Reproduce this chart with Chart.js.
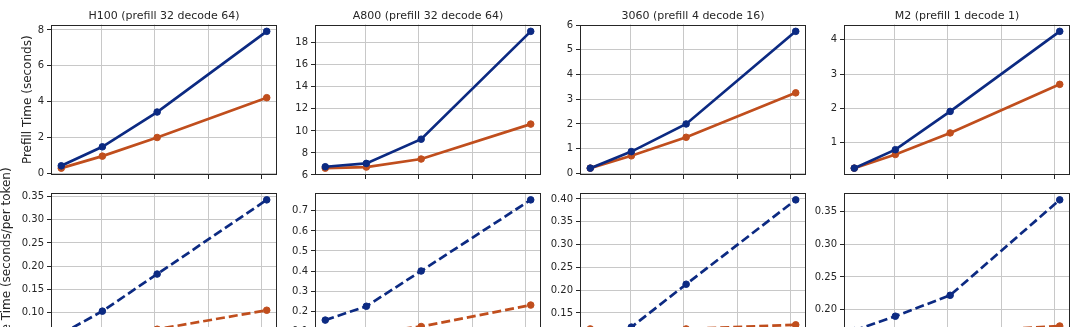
<!DOCTYPE html>
<html>
<head>
<meta charset="utf-8">
<script src="https://cdn.jsdelivr.net/npm/chart.js@4.4.1/dist/chart.umd.min.js"></script>
<style>
  html, body { margin: 0; padding: 0; background: #fff; }
  #fig { position: relative; width: 1080px; height: 327px; overflow: hidden; background: #fff; }
  canvas { position: absolute; }
</style>
</head>
<body>
<div id="fig"></div>
<script>
// ---------------- DATA ----------------
const seqLens = [128, 512, 1024, 2048];
const xTicks = [500, 1000, 1500, 2000];

const panelTitles = [
  "H100 (prefill 32 decode 64)",
  "A800 (prefill 32 decode 64)",
  "3060 (prefill 4 decode 16)",
  "M2 (prefill 1 decode 1)",
];

// prefill time (seconds)
const h100PrefillBlue = [0.42, 1.48, 3.42, 7.92];
const h100PrefillOrange = [0.29, 0.96, 2.0, 4.22];
const a800PrefillBlue = [6.75, 7.05, 9.25, 19.04];
const a800PrefillOrange = [6.62, 6.72, 7.45, 10.62];
const rtx3060PrefillBlue = [0.21, 0.88, 2.0, 5.75];
const rtx3060PrefillOrange = [0.21, 0.71, 1.46, 3.26];
const m2PrefillBlue = [0.25, 0.79, 1.91, 4.25];
const m2PrefillOrange = [0.25, 0.65, 1.28, 2.7];

// decode time (seconds per token)
const h100DecodeBlue = [0.054, 0.103, 0.183, 0.343];
const h100DecodeOrange = [0.047, 0.05, 0.064, 0.105];
const a800DecodeBlue = [0.155, 0.224, 0.4, 0.755];
const a800DecodeOrange = [0.07, 0.09, 0.123, 0.23];
const rtx3060DecodeBlue = [0.097, 0.119, 0.213, 0.398];
const rtx3060DecodeOrange = [0.115, 0.114, 0.115, 0.124];
const m2DecodeBlue = [0.168, 0.19, 0.222, 0.368];
const m2DecodeOrange = [0.158, 0.161, 0.165, 0.175];

// y tick labels
const h100PrefillTicks = [0, 2, 4, 6, 8];
const a800PrefillTicks = [6, 8, 10, 12, 14, 16, 18];
const rtx3060PrefillTicks = [0, 1, 2, 3, 4, 5, 6];
const m2PrefillTicks = [1, 2, 3, 4];
const h100DecodeTicks = [0.05, 0.1, 0.15, 0.2, 0.25, 0.3, 0.35];
const a800DecodeTicks = [0.1, 0.2, 0.3, 0.4, 0.5, 0.6, 0.7];
const rtx3060DecodeTicks = [0.1, 0.15, 0.2, 0.25, 0.3, 0.35, 0.4];
const m2DecodeTicks = [0.15, 0.2, 0.25, 0.3, 0.35];

// ---------------- STYLE ----------------
const BLUE = "#0c2a82";
const ORANGE = "#c04e1d";
const GRID = "#c8c8c8";
const INK = "#262626";
const FONT = "DejaVu Sans";

const axesLefts = [51, 315, 580, 844];
const AXES_W = 227;

// spines on all four sides
const framePlugin = {
  id: "frame",
  afterDatasetsDraw(chart) {
    const { ctx, chartArea: a } = chart;
    const l = Math.round(a.left) + 0.5;
    const t = Math.round(a.top) + 0.5;
    const r = Math.round(a.right) - 0.5;
    const b = Math.round(a.bottom) - 0.5;
    ctx.save();
    ctx.strokeStyle = INK;
    ctx.lineWidth = 1;
    ctx.strokeRect(l, t, r - l, b - t);
    ctx.restore();
  },
};

function limits(values) {
  const lo = Math.min(...values);
  const hi = Math.max(...values);
  const m = (hi - lo) * 0.05;
  return [lo - m, hi + m];
}

function points(values) {
  return seqLens.map((x, i) => ({ x, y: values[i] }));
}

function lineSet(label, values, color, dashed) {
  return {
    label,
    data: points(values),
    borderColor: color,
    backgroundColor: color,
    borderWidth: 2.7,
    borderDash: dashed ? [9, 4] : [],
    pointRadius: 3.3,
    pointBorderWidth: 1,
    pointBorderColor: color,
    pointBackgroundColor: color,
    tension: 0,
  };
}

// ---------------- PANEL ----------------
function makePanel(p) {
  const yW = p.col === 0 ? 51 : 40;
  const canvas = document.createElement("canvas");
  canvas.width = yW + AXES_W + 4;
  canvas.height = p.height;
  canvas.style.left = axesLefts[p.col] - yW + "px";
  canvas.style.top = p.top + "px";
  document.getElementById("fig").appendChild(canvas);

  const [ylo, yhi] = limits(p.blue.concat(p.orange));
  const [xlo, xhi] = limits(seqLens);

  new Chart(canvas, {
    type: "line",
    data: {
      datasets: [
        lineSet("Baseline", p.blue, BLUE, p.dashed),
        lineSet("Optimized", p.orange, ORANGE, p.dashed),
      ],
    },
    options: {
      responsive: false,
      animation: false,
      devicePixelRatio: 1,
      layout: { padding: { top: p.padTop, right: 4, bottom: 0, left: 0 } },
      plugins: {
        legend: { display: false },
        tooltip: { enabled: false },
        title: {
          display: !!p.title,
          text: p.title || "",
          fullSize: false,
          color: INK,
          font: { family: FONT, size: 11, weight: "normal" },
          padding: { top: 9.5, bottom: 1.8 },
        },
      },
      scales: {
        x: {
          type: "linear",
          min: xlo,
          max: xhi,
          afterFit: (s) => { s.height = p.xAxisH; },
          afterBuildTicks: (s) => { s.ticks = xTicks.map((v) => ({ value: v })); },
          grid: { color: GRID, lineWidth: 1, drawTicks: true, tickLength: 4, tickColor: INK, tickWidth: 1 },
          border: { display: false },
          ticks: {
            display: p.xLabels,
            color: INK,
            font: { family: FONT, size: 10 },
            padding: 3,
            maxRotation: 0,
          },
        },
        y: {
          min: ylo,
          max: yhi,
          afterFit: (s) => { s.width = yW; },
          afterBuildTicks: (s) => {
            s.ticks = p.ticks
              .filter((v) => v >= s.min - 1e-9 && v <= s.max + 1e-9)
              .map((v) => ({ value: v }));
          },
          grid: { color: GRID, lineWidth: 1, drawTicks: true, tickLength: 4, tickColor: INK, tickWidth: 1 },
          border: { display: false },
          ticks: {
            color: INK,
            font: { family: FONT, size: 10 },
            padding: 3,
            callback: (v) => Number(v).toFixed(p.decimals),
          },
          title: {
            display: !!p.yTitle,
            text: p.yTitle || "",
            color: INK,
            font: { family: FONT, size: 12 },
            padding: { top: p.yTitlePad, bottom: 0 },
          },
        },
      },
    },
    plugins: [framePlugin],
  });
}

// ---------------- TOP ROW: PREFILL ----------------
const prefillBlue = [h100PrefillBlue, a800PrefillBlue, rtx3060PrefillBlue, m2PrefillBlue];
const prefillOrange = [h100PrefillOrange, a800PrefillOrange, rtx3060PrefillOrange, m2PrefillOrange];
const prefillTicks = [h100PrefillTicks, a800PrefillTicks, rtx3060PrefillTicks, m2PrefillTicks];

// ---------------- BOTTOM ROW: DECODE ----------------
const decodeBlue = [h100DecodeBlue, a800DecodeBlue, rtx3060DecodeBlue, m2DecodeBlue];
const decodeOrange = [h100DecodeOrange, a800DecodeOrange, rtx3060DecodeOrange, m2DecodeOrange];
const decodeTicks = [h100DecodeTicks, a800DecodeTicks, rtx3060DecodeTicks, m2DecodeTicks];
const decodeDecimals = [2, 1, 2, 2];

for (let col = 0; col < 4; col++) {
  makePanel({
    col,
    top: 0,
    height: 184,
    padTop: 0,
    xAxisH: 8,
    xLabels: false,
    title: panelTitles[col],
    blue: prefillBlue[col],
    orange: prefillOrange[col],
    ticks: prefillTicks[col],
    decimals: 0,
    dashed: false,
    yTitle: col === 0 ? "Prefill Time (seconds)" : "",
    yTitlePad: 21,
  });

  // taller canvas so the rotated axis title is not cut at its top
  makePanel({
    col,
    top: 140,
    height: 244,
    padTop: 53,
    xAxisH: 40,
    xLabels: true,
    title: "",
    blue: decodeBlue[col],
    orange: decodeOrange[col],
    ticks: decodeTicks[col],
    decimals: decodeDecimals[col],
    dashed: true,
    yTitle: col === 0 ? "Decode Time (seconds/per token)" : "",
    yTitlePad: 0,
  });
}
</script>
</body>
</html>
